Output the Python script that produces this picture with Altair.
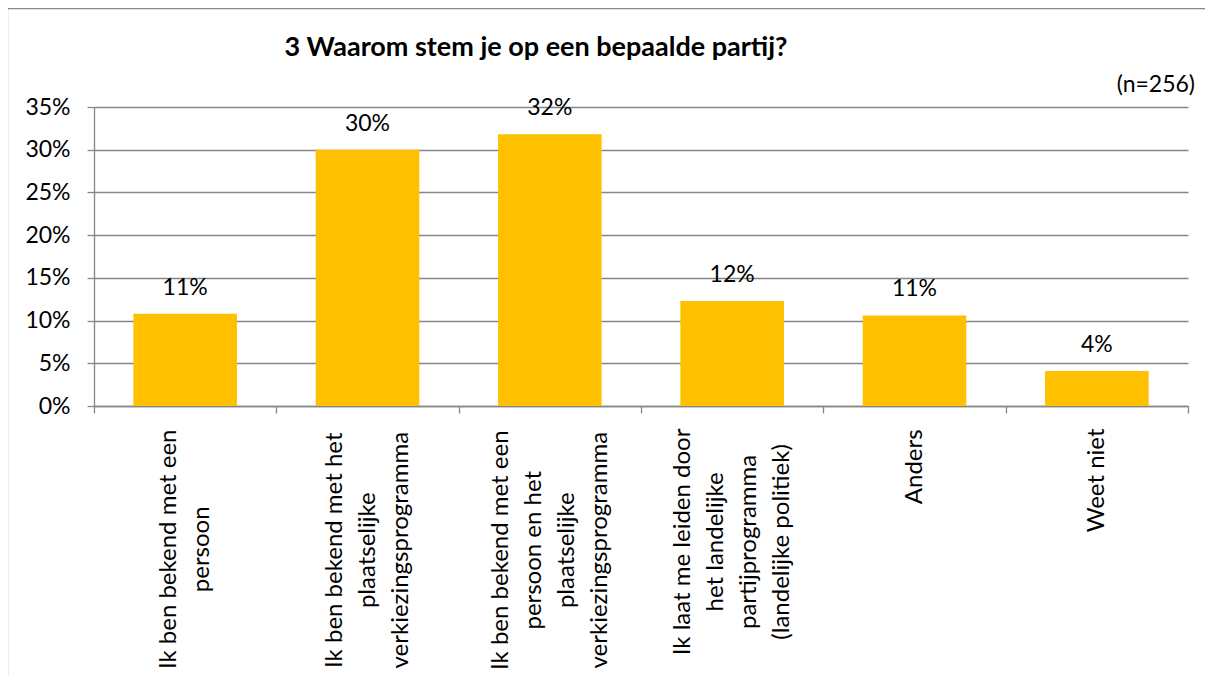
import json
import altair as alt
import pandas as pd

# ---- data ----
categories = [
    "Ik ben bekend met een|persoon",
    "Ik ben bekend met het|plaatselijke|verkiezingsprogramma",
    "Ik ben bekend met een|persoon en het|plaatselijke|verkiezingsprogramma",
    "Ik laat me leiden door|het landelijke|partijprogramma|(landelijke politiek)",
    "Anders",
    "Weet niet",
]
values = [0.108, 0.300, 0.318, 0.123, 0.106, 0.041]
y_ticks = [0.0, 0.05, 0.10, 0.15, 0.20, 0.25, 0.30, 0.35]
title_text = "3 Waarom stem je op een bepaalde partij?"
note_text = "(n=256)"

df = pd.DataFrame({"cat": categories, "value": values})

FONT = "Lato"
GRID = "#868686"
BAR = "#FFC000"
W, H = 1094, 299
X_FS = 24          # category label font size
LINE_H = 33        # category label line height
BASE_PAD = 15

# approximate glyph advance widths (em) for Lato Regular, used to centre
# the wrapped lines of each rotated category label like the original
EM = {' ': 0.193, 'I': 0.27, 'k': 0.49, 'b': 0.57, 'e': 0.53, 'n': 0.56,
      'm': 0.84, 't': 0.34, 'd': 0.57, 's': 0.41, 'p': 0.57, 'o': 0.56,
      'r': 0.36, 'h': 0.56, 'l': 0.23, 'a': 0.50, 'j': 0.23, 'c': 0.46,
      'v': 0.50, 'z': 0.44, 'i': 0.23, 'g': 0.52, 'w': 0.76, 'W': 0.95,
      'A': 0.67, '(': 0.30, ')': 0.30}


def text_px(s):
    return sum(EM.get(c, 0.5) for c in s) * 1.03 * X_FS


pad_conds, off_conds = [], []
for cat in categories:
    lines = cat.split("|")
    maxw = max(text_px(l) for l in lines)
    test = "datum.value === " + json.dumps(cat)
    pad_conds.append({"test": test, "value": round(BASE_PAD + maxw / 2, 1)})
    off_conds.append({"test": test, "value": round(-(len(lines) - 1) * LINE_H / 2, 1)})

x_enc = alt.X(
    "cat:N",
    sort=None,
    scale=alt.Scale(paddingInner=0, paddingOuter=0),
    axis=alt.Axis(
        title=None,
        labelAngle=-90,
        labelAlign="center",
        labelBaseline="middle",
        labelExpr="split(datum.label, '|')",
        labelFont=FONT,
        labelFontSize=X_FS,
        labelColor="black",
        labelLineHeight=LINE_H,
        labelPadding={"condition": pad_conds, "value": BASE_PAD},
        labelOffset={"condition": off_conds, "value": 0},
        labelLimit=600,
        labelOverlap=False,
        tickBand="extent",
        tickSize=7,
        tickColor=GRID,
        tickWidth=1.3,
        domainColor=GRID,
        domainWidth=1.3,
    ),
)
y_enc = alt.Y(
    "value:Q",
    scale=alt.Scale(domain=[0, 0.35], nice=False),
    axis=alt.Axis(
        title=None,
        values=y_ticks,
        format=".0%",
        grid=True,
        gridColor=GRID,
        gridWidth=1.3,
        tickSize=7,
        tickColor=GRID,
        tickWidth=1.3,
        domainColor=GRID,
        domainWidth=1.3,
        labelFont=FONT,
        labelFontSize=23,
        labelColor="black",
        labelPadding=17,
        labelOverlap=False,
    ),
)

base = alt.Chart(df)
bars = base.mark_bar(color=BAR, width=alt.RelativeBandSize(0.568)).encode(x=x_enc, y=y_enc)
labels = base.mark_text(
    font=FONT, fontSize=23, color="black", baseline="alphabetic", dy=-19
).encode(x=x_enc, y=y_enc, text=alt.Text("value:Q", format=".0%"))

border = alt.Chart(pd.DataFrame({"a": [0]})).mark_rect(
    filled=False, stroke=GRID, strokeWidth=1.3
).encode(
    x=alt.value(-86.5), x2=alt.value(1200), y=alt.value(-98.5), y2=alt.value(700)
)

title = alt.Chart(pd.DataFrame({"t": [title_text]})).mark_text(
    font=FONT, fontSize=27, fontWeight="bold", color="black",
    align="center", baseline="alphabetic",
).encode(text="t:N", x=alt.value(442), y=alt.value(-51))

note = alt.Chart(pd.DataFrame({"t": [note_text]})).mark_text(
    font=FONT, fontSize=23, color="black", align="right", baseline="middle",
).encode(text="t:N", x=alt.value(1101), y=alt.value(-22))

chart = alt.layer(border, bars, labels, title, note).properties(
    width=W,
    height=H,
    autosize=alt.AutoSizeParams(type="none"),
    padding={"left": 86, "top": 99, "right": 17, "bottom": 270},
    background="white",
).configure_view(strokeWidth=0)

chart.save("out.html", embed_options={"renderer": "svg", "actions": False})
